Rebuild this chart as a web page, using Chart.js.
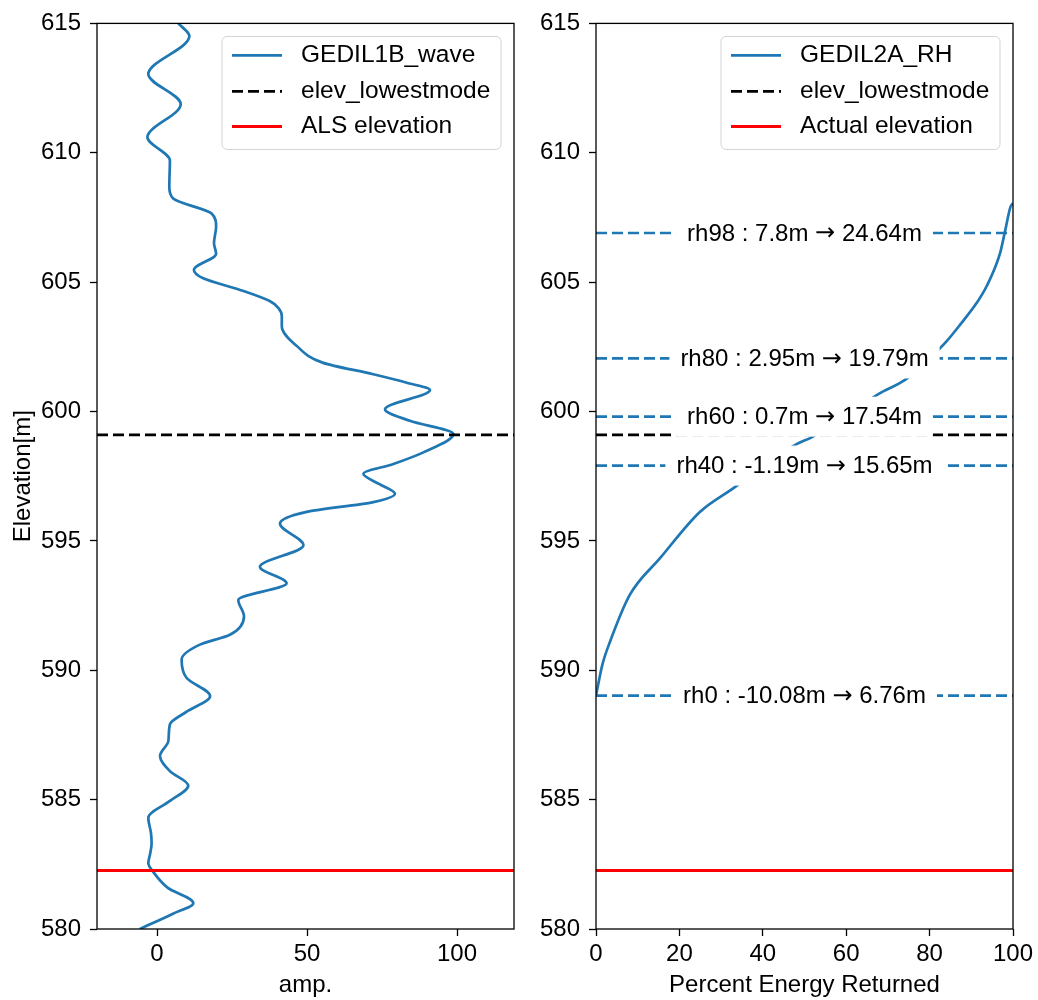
<!DOCTYPE html>
<html>
<head>
<meta charset="utf-8">
<script src="https://cdn.jsdelivr.net/npm/chart.js@4.4.1/dist/chart.umd.min.js"></script>
<style>
    html, body { margin: 0; padding: 0; background: #fff; }
    .panel { position: absolute; top: 0; height: 1000px; }
    #left { left: 0; width: 530px; }
    #right { left: 530px; width: 508px; }
</style>
</head>
<body>
<div class="panel" id="left"><canvas id="waveChart"></canvas></div>
<div class="panel" id="right"><canvas id="rhChart"></canvas></div>
<script>
// ================================
// DATA
// ================================
const elevTicks = [580, 585, 590, 595, 600, 605, 610, 615];
const ampTicks = [0, 50, 100];
const pctTicks = [0, 20, 40, 60, 80, 100];

// GEDI L1B waveform (elevation [m] / amplitude)
const waveElev = [580.0, 580.6, 581.0, 581.6, 582.2, 582.55, 582.9, 583.3, 583.7, 584.3,
    584.95, 585.54, 586.1, 586.69, 587.27, 587.91, 588.4, 589.0, 589.7, 590.41,
    590.99, 591.37, 592.08, 592.72, 593.36, 594.0, 594.83, 595.67, 596.12, 596.5,
    596.82, 597.2, 597.59, 597.97, 598.42, 599.13, 599.64, 600.09, 600.83, 601.12,
    601.44, 601.88, 602.53, 603.3, 603.68, 604.0, 604.26, 604.7, 605.15, 605.47,
    606.1, 606.5, 607.14, 607.65, 608.23, 608.68, 609.7, 610.6, 611.88, 613.04,
    614.51, 615.0];
const waveAmp = [-5.7, 5.5, 12.1, 3.5, -1.2, -2.9, -2.3, -1.8, -2.0, -2.9,
    4.3, 10.4, 4.3, 1.0, 3.8, 4.3, 9.9, 17.7, 9.9, 8.2,
    14.3, 24.3, 29.0, 27.1, 43.2, 34.3, 48.8, 41.0, 49.9, 72.1,
    79.3, 74.0, 68.8, 78.8, 88.8, 98.8, 84.3, 76.0, 91.0, 83.0,
    72.1, 55.4, 46.6, 41.6, 41.6, 40.5, 37.7, 27.7, 15.4, 12.3,
    19.7, 19.0, 19.7, 18.2, 5.4, 4.1, 4.3, -3.2, 7.9, -2.9,
    10.8, 7.1];

// GEDI L2A cumulative energy (percent / elevation [m])
const rhPct = [0, 1.5, 3.4, 8.1, 15.3, 24.9, 33.3, 40, 48.1, 51.7, 60, 67.7, 74.1,
    80, 84.1, 87.3, 91.3, 93.7, 96.9, 98, 99.4, 100];
const rhElev = [589.02, 590.2, 591.12, 592.91, 594.32, 596.12, 597.08, 597.91, 598.74,
    599.0, 599.8, 600.67, 601.22, 602.05, 602.72, 603.35, 604.2, 604.85, 606.12,
    606.9, 607.91, 608.05];

const elevLowestmode = 599.1;
const alsElevation = 582.26;

const rhNames = ["rh0", "rh40", "rh60", "rh80", "rh98"];
const rhHeights = [-10.08, -1.19, 0.7, 2.95, 7.8];

const ampRange = [-20, 119];
const pctRange = [0, 100];

const BLUE = "#1f77b4";
const DASH = [11, 5];
const FONT = "'Liberation Sans', Arial, sans-serif";

Chart.defaults.font.family = FONT;
Chart.defaults.font.size = 24;
Chart.defaults.color = "#000";

/* ------------------------------
   PLUGINS
------------------------------ */
const frame = {
    id: "frame",
    afterDatasetsDraw(chart) {
        const a = chart.chartArea;
        const c = chart.ctx;
        c.save();
        c.strokeStyle = "#000";
        c.lineWidth = 1.3;
        c.strokeRect(a.left, a.top, a.right - a.left, a.bottom - a.top);
        c.restore();
    }
};

const rhLabels = {
    id: "rhLabels",
    afterDatasetsDraw(chart) {
        const c = chart.ctx;
        const xs = chart.scales.x;
        const ys = chart.scales.y;
        const offset = elevLowestmode - alsElevation;
        const textFont = "24px " + FONT;
        const arrowFont = "24px 'DejaVu Sans', sans-serif";
        c.save();
        c.textAlign = "left";
        c.textBaseline = "middle";
        rhNames.forEach((name, i) => {
            const h = rhHeights[i];
            const parts = [
                [name + " : " + h + "m ", textFont],
                ["\u2192", arrowFont],
                [" " + (h + offset).toFixed(2) + "m", textFont]
            ];
            const widths = parts.map(p => { c.font = p[1]; return c.measureText(p[0]).width; });
            const total = widths.reduce((s, v) => s + v, 0);
            const px = xs.getPixelForValue(50);
            const py = ys.getPixelForValue(elevLowestmode + h);
            const w = total + 22;
            c.fillStyle = "#fff";
            c.fillRect(px - w / 2, py - 20, w, 40);
            c.fillStyle = "#000";
            let x = px - total / 2;
            parts.forEach((p, k) => {
                c.font = p[1];
                c.fillText(p[0], x, py + 1);
                x += widths[k];
            });
        });
        c.restore();
    }
};

const boxLegend = {
    id: "boxLegend",
    afterDraw(chart) {
        const a = chart.chartArea;
        const c = chart.ctx;
        const w = 279, h = 113;
        const left = a.right - 13 - w;
        const top = a.top + 13;
        c.save();
        c.beginPath();
        c.roundRect(left, top, w, h, 5);
        c.fillStyle = "rgba(255,255,255,0.8)";
        c.fill();
        c.strokeStyle = "#d3d3d3";
        c.lineWidth = 1;
        c.stroke();

        const rows = [19, 55, 90];
        c.font = "24.5px " + FONT;
        c.textBaseline = "middle";
        c.textAlign = "left";
        chart.data.datasets.filter(d => d.label).forEach((d, i) => {
            const y = top + rows[i];
            c.beginPath();
            c.setLineDash(d.borderDash || []);
            c.strokeStyle = d.borderColor;
            c.lineWidth = d.borderWidth;
            c.moveTo(left + 10, y);
            c.lineTo(left + 60, y);
            c.stroke();
            c.setLineDash([]);
            c.fillStyle = "#000";
            c.fillText(d.label, left + 79, y);
        });
        c.restore();
    }
};

/* ------------------------------
   SHARED AXIS HELPERS
------------------------------ */
function yAxis(width, withTitle) {
    return {
        type: "linear",
        min: elevTicks[0],
        max: elevTicks[elevTicks.length - 1],
        afterBuildTicks: s => { s.ticks = elevTicks.map(v => ({ value: v })); },
        afterFit: s => { s.width = width; },
        border: { display: false },
        grid: { drawOnChartArea: false, drawTicks: true, tickLength: 7, tickColor: "#000", tickWidth: 1.3 },
        ticks: { color: "#000", padding: 9 },
        title: { display: withTitle, text: "Elevation[m]", color: "#000", padding: { top: 9, bottom: 0 } }
    };
}

function xAxis(range, ticks, label) {
    return {
        type: "linear",
        min: range[0],
        max: range[1],
        afterBuildTicks: s => { s.ticks = ticks.map(v => ({ value: v })); },
        afterFit: s => { s.height = 71; },
        border: { display: false },
        grid: { drawOnChartArea: false, drawTicks: true, tickLength: 7, tickColor: "#000", tickWidth: 1.3 },
        ticks: { color: "#000", padding: 4, maxRotation: 0 },
        title: { display: true, text: label, color: "#000", padding: { top: 0, bottom: 0 } }
    };
}

function hLine(y, range) {
    return [{ x: range[0], y: y }, { x: range[1], y: y }];
}

/* ------------------------------
   WAVEFORM CHART
------------------------------ */
new Chart(document.getElementById("waveChart"), {
    type: "line",
    data: {
        datasets: [
            {
                label: "GEDIL1B_wave",
                data: waveElev.map((e, i) => ({ x: waveAmp[i], y: e })),
                borderColor: BLUE,
                borderWidth: 2.7,
                cubicInterpolationMode: "monotone",
                pointRadius: 0,
                order: 3
            },
            {
                label: "elev_lowestmode",
                data: hLine(elevLowestmode, ampRange),
                borderColor: "#000",
                borderWidth: 2.7,
                borderDash: DASH,
                tension: 0,
                pointRadius: 0,
                order: 2
            },
            {
                label: "ALS elevation",
                data: hLine(alsElevation, ampRange),
                borderColor: "#ff0000",
                borderWidth: 3,
                tension: 0,
                pointRadius: 0,
                order: 1
            }
        ]
    },
    options: {
        indexAxis: "y",
        animation: false,
        responsive: true,
        maintainAspectRatio: false,
        layout: { padding: { left: 0, right: 16, top: 16, bottom: 0 } },
        plugins: { legend: { display: false }, tooltip: { enabled: false } },
        scales: {
            x: xAxis(ampRange, ampTicks, "amp."),
            y: yAxis(97, true)
        }
    },
    plugins: [frame, boxLegend]
});

/* ------------------------------
   RH CHART
------------------------------ */
const rhLineSets = rhNames.map((name, i) => ({
    data: hLine(elevLowestmode + rhHeights[i], pctRange),
    borderColor: BLUE,
    borderWidth: 2.7,
    borderDash: DASH,
    tension: 0,
    pointRadius: 0,
    order: 4
}));

new Chart(document.getElementById("rhChart"), {
    type: "line",
    data: {
        datasets: [
            {
                label: "GEDIL2A_RH",
                data: rhPct.map((p, i) => ({ x: p, y: rhElev[i] })),
                borderColor: BLUE,
                borderWidth: 2.7,
                cubicInterpolationMode: "monotone",
                pointRadius: 0,
                order: 3
            },
            {
                label: "elev_lowestmode",
                data: hLine(elevLowestmode, pctRange),
                borderColor: "#000",
                borderWidth: 2.7,
                borderDash: DASH,
                tension: 0,
                pointRadius: 0,
                order: 2
            },
            {
                label: "Actual elevation",
                data: hLine(alsElevation, pctRange),
                borderColor: "#ff0000",
                borderWidth: 3,
                tension: 0,
                pointRadius: 0,
                order: 1
            },
            ...rhLineSets
        ]
    },
    options: {
        animation: false,
        responsive: true,
        maintainAspectRatio: false,
        layout: { padding: { left: 0, right: 25, top: 16, bottom: 0 } },
        plugins: { legend: { display: false }, tooltip: { enabled: false } },
        scales: {
            x: xAxis(pctRange, pctTicks, "Percent Energy Returned"),
            y: yAxis(66, false)
        }
    },
    plugins: [rhLabels, frame, boxLegend]
});
</script>
</body>
</html>
